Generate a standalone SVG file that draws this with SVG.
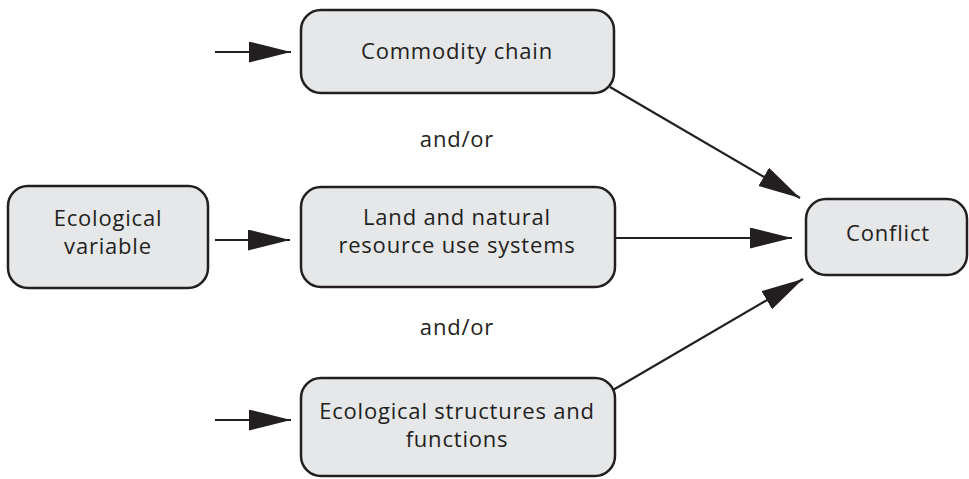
<svg xmlns="http://www.w3.org/2000/svg" width="969" height="479" viewBox="0 0 969 479">
<style>
.box{fill:#e6e7e8;stroke:#231f20;stroke-width:2.5}
.t{font-family:"Open Sans","Noto Sans",sans-serif;font-size:22px;letter-spacing:0.8px;fill:#231f20;text-anchor:middle}
.c{stroke:#231f20;stroke-width:2.2;fill:none}
</style>
<defs>
<marker id="ah" markerUnits="userSpaceOnUse" markerWidth="44" markerHeight="22" refX="42" refY="10.5" orient="auto" viewBox="0 0 44 22">
<path d="M0,0 L42,10.5 L0,21 Z" fill="#231f20"/>
</marker>
</defs>
<g id="commodity"><rect class="box" x="301" y="10" width="313" height="83" rx="20"/><text class="t" x="457" y="59">Commodity chain</text></g>
<g id="ecovar"><rect class="box" x="8" y="186" width="200" height="102" rx="20"/><text class="t" x="108" y="226">Ecological</text><text class="t" x="108" y="254">variable</text></g>
<g id="land"><rect class="box" x="301" y="187" width="314" height="100" rx="20"/><text class="t" x="457" y="225">Land and natural</text><text class="t" x="457" y="253">resource use systems</text></g>
<g id="ecostruct"><rect class="box" x="301" y="378" width="314" height="98" rx="20"/><text class="t" x="457" y="419">Ecological structures and</text><text class="t" x="457" y="447">functions</text></g>
<g id="conflict"><rect class="box" x="806" y="199" width="161" height="76" rx="20"/><text class="t" x="888" y="241">Conflict</text></g>
<g id="labels"><text class="t" x="457" y="147">and/or</text><text class="t" x="457" y="335">and/or</text></g>
<g id="connectors">
<line class="c" x1="215" y1="52" x2="291" y2="52" marker-end="url(#ah)"/>
<line class="c" x1="215" y1="240" x2="290" y2="240" marker-end="url(#ah)"/>
<line class="c" x1="215" y1="420" x2="291" y2="420" marker-end="url(#ah)"/>
<line class="c" x1="615" y1="238" x2="792" y2="238" marker-end="url(#ah)"/>
<line class="c" x1="610" y1="87" x2="800" y2="198" marker-end="url(#ah)"/>
<line class="c" x1="613" y1="390" x2="803" y2="279" marker-end="url(#ah)"/>
</g>
</svg>
